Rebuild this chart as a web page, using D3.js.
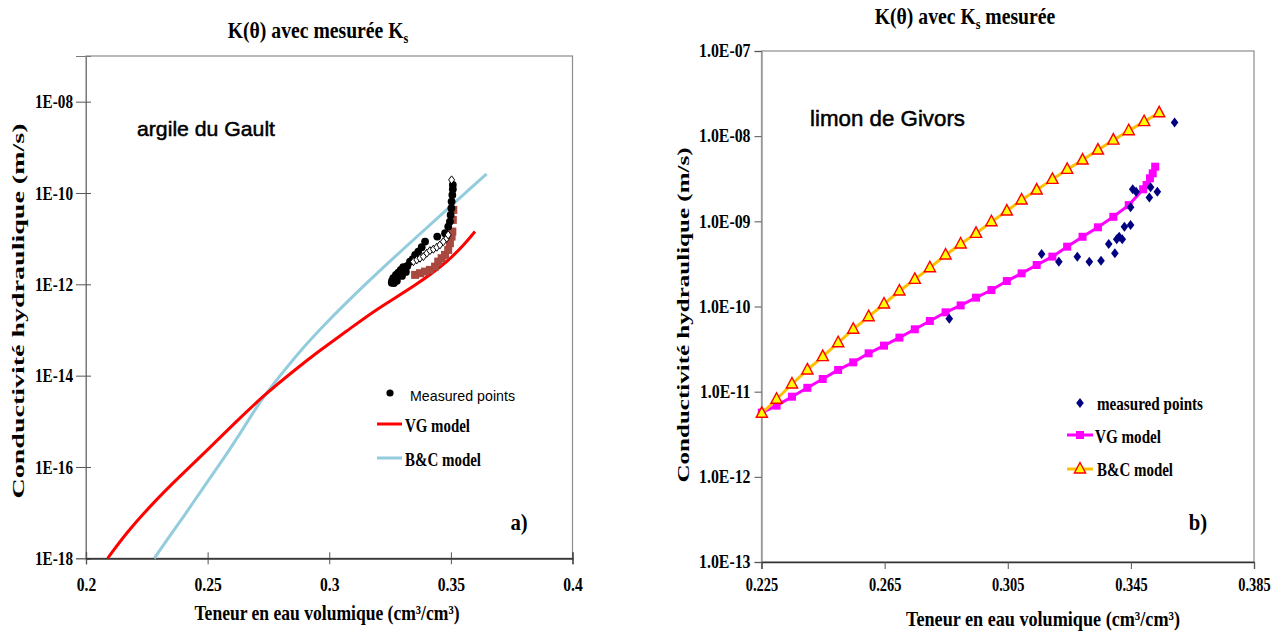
<!DOCTYPE html>
<html><head><meta charset="utf-8">
<script src="https://cdn.jsdelivr.net/npm/d3@7"></script>
<style>body{margin:0;background:#fff;} svg{display:block;}</style>
</head><body>
<svg id="c" width="1280" height="633"></svg>
<script>
// ---------- LEFT PANEL DATA (argile du Gault) ----------
const leftXTicks = [0.2, 0.25, 0.3, 0.35, 0.4];
const leftXLabels = ["0.2", "0.25", "0.3", "0.35", "0.4"];
const leftYTicks = [1e-18, 1e-16, 1e-14, 1e-12, 1e-10, 1e-8];
const leftYLabels = ["1E-18", "1E-16", "1E-14", "1E-12", "1E-10", "1E-08"];

const leftVGTheta = [0.2089,0.2164,0.2274,0.2384,0.2500,0.2617,0.2733,0.2850,0.2959,0.3069,0.3195,0.3359,0.3496,0.3565,0.3599];
const leftVGK = [1.0e-18,3.53e-18,1.60e-17,6.14e-17,2.36e-16,9.82e-16,3.78e-15,1.23e-14,3.50e-14,9.20e-14,2.89e-13,9.70e-13,3.43e-12,8.61e-12,1.43e-11];

const leftBCTheta = [0.2281,0.2342,0.2411,0.2480,0.2548,0.2617,0.2685,0.2740,0.2822,0.2891,0.2959,0.3069,0.3222,0.3359,0.3496,0.3578,0.3647];
const leftBCK = [1.0e-18,2.97e-18,9.68e-18,3.41e-17,1.11e-16,3.90e-16,1.50e-15,4.11e-15,1.45e-14,3.98e-14,1.00e-13,3.95e-13,2.36e-12,1.09e-11,4.95e-11,1.23e-10,2.62e-10];

const leftMeasTheta = [0.3257,0.3258,0.3266,0.3278,0.3263,0.3274,0.3284,0.3294,0.3299,0.3304,0.3315,0.3321,0.3332,0.3343,0.3353,0.3366,0.3380,0.3394,0.3444,0.3476,0.3489,0.3496,0.3499,0.3502,0.3503,0.3506,0.3508,0.3508];
const leftMeasK = [1.08e-12,1.19e-12,1.07e-12,1.19e-12,1.36e-12,1.61e-12,1.80e-12,2.07e-12,1.53e-12,2.37e-12,1.87e-12,2.53e-12,3.14e-12,3.55e-12,4.41e-12,5.20e-12,6.50e-12,8.61e-12,1.11e-11,1.32e-11,1.84e-11,2.37e-11,3.31e-11,4.64e-11,6.48e-11,9.08e-11,1.21e-10,1.51e-10];

const leftOpenTheta = [0.3346,0.3360,0.3373,0.3387,0.3401,0.3414,0.3428,0.3442,0.3455,0.3469,0.3483,0.3489,0.3503];
const leftOpenK = [3.14e-12,3.43e-12,3.73e-12,4.05e-12,4.80e-12,5.47e-12,5.87e-12,6.50e-12,7.30e-12,8.61e-12,1.02e-11,1.21e-11,1.94e-10];

const leftBrownTheta = [0.3353,0.3373,0.3394,0.3414,0.3435,0.3448,0.3462,0.3476,0.3489,0.3496,0.3503,0.3506,0.3508,0.3510];
const leftBrownK = [1.61e-12,1.75e-12,1.90e-12,2.07e-12,2.44e-12,3.14e-12,3.73e-12,4.41e-12,5.67e-12,7.94e-12,1.11e-11,1.43e-11,2.58e-11,4.27e-11];

// ---------- RIGHT PANEL DATA (limon de Givors) ----------
const rightXTicks = [0.225, 0.265, 0.305, 0.345, 0.385];
const rightXLabels = ["0.225", "0.265", "0.305", "0.345", "0.385"];
const rightYTicks = [1e-13, 1e-12, 1e-11, 1e-10, 1e-9, 1e-8, 1e-7];
const rightYLabels = ["1.0E-13", "1.0E-12", "1.0E-11", "1.0E-10", "1.0E-09", "1.0E-08", "1.0E-07"];

const rightBCTheta = [0.2251,0.2299,0.2349,0.2399,0.2449,0.2499,0.2548,0.2598,0.2648,0.2698,0.2748,0.2797,0.2848,0.2897,0.2947,0.2997,0.3047,0.3095,0.3144,0.3195,0.3243,0.3293,0.3343,0.3393,0.3443,0.3493,0.3542];
const rightBCK = [5.57e-12,8.15e-12,1.23e-11,1.80e-11,2.58e-11,3.76e-11,5.40e-11,7.59e-11,1.07e-10,1.52e-10,2.08e-10,2.85e-10,4.02e-10,5.42e-10,7.23e-10,9.89e-10,1.32e-9,1.78e-9,2.33e-9,3.11e-9,4.07e-9,5.24e-9,6.87e-9,8.99e-9,1.16e-8,1.48e-8,1.88e-8];

const rightVGTheta = [0.2251,0.2299,0.2349,0.2399,0.2449,0.2499,0.2548,0.2598,0.2648,0.2698,0.2748,0.2797,0.2848,0.2897,0.2947,0.2997,0.3047,0.3095,0.3144,0.3195,0.3243,0.3293,0.3343,0.3393,0.3443,0.3490,0.3501,0.3512,0.3521,0.3529];
const rightVGK = [5.68e-12,6.85e-12,8.73e-12,1.11e-11,1.41e-11,1.80e-11,2.21e-11,2.82e-11,3.47e-11,4.31e-11,5.40e-11,6.76e-11,8.55e-11,1.03e-10,1.27e-10,1.56e-10,1.99e-10,2.45e-10,3.07e-10,3.85e-10,5.04e-10,6.59e-10,8.51e-10,1.13e-9,1.55e-9,2.38e-9,2.67e-9,3.20e-9,3.66e-9,4.38e-9];

const rightMeasTheta = [0.2860,0.3160,0.3216,0.3276,0.3315,0.3353,0.3378,0.3398,0.3404,0.3412,0.3422,0.3429,0.3449,0.3449,0.3456,0.3467,0.3510,0.3514,0.3536,0.3592];
const rightMeasK = [7.19e-11,4.13e-10,3.36e-10,3.85e-10,3.36e-10,3.45e-10,5.42e-10,4.21e-10,6.15e-10,6.59e-10,6.15e-10,8.65e-10,9.06e-10,1.46e-9,2.38e-9,2.22e-9,1.91e-9,2.51e-9,2.22e-9,1.45e-8];

// ---------- DRAWING ----------
const svg = d3.select("#c");
const SERIF = "'Liberation Serif','Times New Roman',serif";
const SANS = "'Liberation Sans',Arial,sans-serif";

function condense(sel, f) {
  sel.each(function () {
    const w = this.getComputedTextLength();
    d3.select(this).attr("textLength", w * f).attr("lengthAdjust", "spacingAndGlyphs");
  });
}

function txt(x, y, s, o) {
  o = o || {};
  const g = svg.append("g")
    .attr("transform", `translate(${x},${y})` + (o.rot ? ` rotate(${o.rot})` : "") + (o.sx ? ` scale(${o.sx},1)` : ""));
  const t = g.append("text")
    .attr("text-anchor", o.anchor || "start")
    .attr("font-family", o.family || SERIF)
    .attr("font-weight", o.weight || "bold")
    .attr("font-size", o.size || 15)
    .attr("fill", "#000")
    .text(s);
  if (o.stroke) t.attr("stroke", "#000").attr("stroke-width", o.stroke);
  if (o.len) t.attr("textLength", o.len).attr("lengthAdjust", "spacingAndGlyphs");
  return t;
}

function titleWithSub(x, y, pre, sub, post, size, sx) {
  const t = svg.append("g").attr("transform", `translate(${x},${y}) scale(${sx},1)`)
    .append("text").attr("text-anchor", "middle").attr("font-family", SERIF)
    .attr("font-weight", "bold").attr("font-size", size);
  t.append("tspan").text(pre);
  t.append("tspan").attr("font-size", size * 0.62).attr("dy", 5).text(sub);
  if (post) t.append("tspan").attr("dy", -5).text(post);
}

const diamondPath = "M0,-5L3.8,0L0,5L-3.8,0Z";
const trianglePath = "M0,-6.5L5.6,4L-5.6,4Z";

// ===== LEFT =====
const xL = d3.scaleLinear().domain([0.2, 0.4]).range([86, 572.5]);
const yL = d3.scaleLog().domain([1e-18, 1e-7]).range([558.3, 56]);

svg.append("rect").attr("x", xL(0.2)).attr("y", yL(1e-7))
  .attr("width", xL(0.4) - xL(0.2)).attr("height", yL(1e-18) - yL(1e-7))
  .attr("fill", "none").attr("stroke", "#8c8c8c").attr("stroke-width", 1.2);

const gLy = svg.append("g").attr("transform", `translate(${xL(0.2)},0)`)
  .call(d3.axisLeft(yL).tickValues(leftYTicks).tickFormat((d, i) => leftYLabels[i]).tickSize(10).tickPadding(3));
gLy.append("g").call(d3.axisRight(yL).tickValues(leftYTicks).tickFormat("").tickSize(5));
gLy.selectAll("path.domain").attr("stroke", "#7a7a7a");
gLy.selectAll("line").attr("stroke", "#555");
gLy.selectAll("text").attr("font-family", SERIF).attr("font-weight", "bold").attr("font-size", 19).attr("fill", "#000").call(condense, 0.8);

const gLx = svg.append("g").attr("transform", `translate(0,${yL(1e-18)})`)
  .call(d3.axisBottom(xL).tickValues(leftXTicks).tickFormat((d, i) => leftXLabels[i]).tickSize(6).tickPadding(13));
gLx.append("g").call(d3.axisTop(xL).tickValues(leftXTicks).tickFormat("").tickSize(6));
gLx.selectAll("path.domain").attr("stroke", "#333").attr("stroke-width", 1.3);
gLx.selectAll("line").attr("stroke", "#555");
gLx.selectAll("text").attr("font-family", SERIF).attr("font-weight", "bold").attr("font-size", 19).attr("fill", "#000").call(condense, 0.82);

const lineL = d3.line().x(d => xL(d[0])).y(d => yL(d[1])).curve(d3.curveBasis);
svg.append("path").datum(d3.zip(leftBCTheta, leftBCK)).attr("d", lineL)
  .attr("fill", "none").attr("stroke", "#93CDDD").attr("stroke-width", 3);
svg.append("path").datum(d3.zip(leftVGTheta, leftVGK)).attr("d", lineL)
  .attr("fill", "none").attr("stroke", "#FF0000").attr("stroke-width", 3);

svg.append("g").selectAll("rect").data(d3.zip(leftBrownTheta, leftBrownK)).join("rect")
  .attr("x", d => xL(d[0]) - 4).attr("y", d => yL(d[1]) - 4)
  .attr("width", 8).attr("height", 8).attr("fill", "#A8483E");
svg.append("g").selectAll("circle").data(d3.zip(leftMeasTheta, leftMeasK)).join("circle")
  .attr("cx", d => xL(d[0])).attr("cy", d => yL(d[1])).attr("r", 3.9).attr("fill", "#000");
svg.append("g").selectAll("path").data(d3.zip(leftOpenTheta, leftOpenK)).join("path")
  .attr("transform", d => `translate(${xL(d[0])},${yL(d[1])})`)
  .attr("d", "M0,-4L3,0L0,4L-3,0Z").attr("fill", "#fff").attr("stroke", "#000").attr("stroke-width", 1);

// left texts
titleWithSub(318, 38, "K(θ) avec mesurée K", "s", null, 24, 0.82);
txt(24, 311, "Conductivité hydraulique (m/s)", {rot: -90, anchor: "middle", size: 17, len: 375});
txt(327, 620, "Teneur en eau volumique (cm³/cm³)", {anchor: "middle", size: 21, len: 265});
txt(137, 136, "argile du Gault", {family: SANS, weight: "normal", size: 21, len: 138, stroke: 0.5});
txt(519, 530, "a)", {anchor: "middle", size: 23, sx: 0.9});
// left legend
svg.append("circle").attr("cx", 390).attr("cy", 393).attr("r", 3.6).attr("fill", "#000");
txt(410, 401, "Measured points", {family: SANS, weight: "normal", size: 15, len: 105});
svg.append("line").attr("x1", 377).attr("x2", 402).attr("y1", 424).attr("y2", 424).attr("stroke", "#FF0000").attr("stroke-width", 3);
txt(405, 432, "VG model", {size: 18, len: 65});
svg.append("line").attr("x1", 377).attr("x2", 402).attr("y1", 458).attr("y2", 458).attr("stroke", "#93CDDD").attr("stroke-width", 3);
txt(405, 466, "B&C model", {size: 18, len: 76});

// ===== RIGHT =====
const xR = d3.scaleLinear().domain([0.225, 0.385]).range([761.5, 1254]);
const yR = d3.scaleLog().domain([1e-13, 1e-7]).range([562, 51]);

svg.append("rect").attr("x", xR(0.225)).attr("y", yR(1e-7))
  .attr("width", xR(0.385) - xR(0.225)).attr("height", yR(1e-13) - yR(1e-7))
  .attr("fill", "none").attr("stroke", "#8c8c8c").attr("stroke-width", 1.2);

const gRy = svg.append("g").attr("transform", `translate(${xR(0.225)},0)`)
  .call(d3.axisLeft(yR).tickValues(rightYTicks).tickFormat((d, i) => rightYLabels[i]).tickSize(7).tickPadding(4));
gRy.selectAll("path.domain").attr("stroke", "#9a9a9a").attr("stroke-width", 1.5);
gRy.selectAll("line").attr("stroke", "#555");
gRy.selectAll("text").attr("font-family", SERIF).attr("font-weight", "bold").attr("font-size", 18).attr("fill", "#000").call(condense, 0.88);

const gRx = svg.append("g").attr("transform", `translate(0,${yR(1e-13)})`)
  .call(d3.axisBottom(xR).tickValues(rightXTicks).tickFormat((d, i) => rightXLabels[i]).tickSize(7).tickPadding(9));
gRx.selectAll("path.domain").attr("stroke", "#333").attr("stroke-width", 1.3);
gRx.selectAll("line").attr("stroke", "#555");
gRx.selectAll("text").attr("font-family", SERIF).attr("font-weight", "bold").attr("font-size", 18).attr("fill", "#000").call(condense, 0.8);

const lineR = d3.line().x(d => xR(d[0])).y(d => yR(d[1]));
// VG
svg.append("path").datum(d3.zip(rightVGTheta, rightVGK)).attr("d", lineR)
  .attr("fill", "none").attr("stroke", "#FF00FF").attr("stroke-width", 3);
svg.append("g").selectAll("rect").data(d3.zip(rightVGTheta, rightVGK)).join("rect")
  .attr("x", d => xR(d[0]) - 4).attr("y", d => yR(d[1]) - 4)
  .attr("width", 8).attr("height", 8).attr("fill", "#FF00FF");
// B&C
svg.append("path").datum(d3.zip(rightBCTheta, rightBCK)).attr("d", lineR)
  .attr("fill", "none").attr("stroke", "#FFC000").attr("stroke-width", 3);
svg.append("g").selectAll("path").data(d3.zip(rightBCTheta, rightBCK)).join("path")
  .attr("transform", d => `translate(${xR(d[0])},${yR(d[1])})`)
  .attr("d", trianglePath).attr("fill", "#FFFF00").attr("stroke", "#FF0000").attr("stroke-width", 1.4);
// measured
svg.append("g").selectAll("path").data(d3.zip(rightMeasTheta, rightMeasK)).join("path")
  .attr("transform", d => `translate(${xR(d[0])},${yR(d[1])})`)
  .attr("d", diamondPath).attr("fill", "#000080");

// right texts
titleWithSub(965, 24, "K(θ) avec K", "s", " mesurée", 24, 0.82);
txt(689, 315, "Conductivité hydraulique (m/s)", {rot: -90, anchor: "middle", size: 17, len: 335});
txt(1043, 626, "Teneur en eau volumique (cm³/cm³)", {anchor: "middle", size: 21, len: 274});
txt(810, 126, "limon de Givors", {family: SANS, weight: "normal", size: 22, len: 155, stroke: 0.5});
txt(1198, 530, "b)", {anchor: "middle", size: 23, sx: 0.9});
// right legend
svg.append("path").attr("transform", "translate(1080,403)").attr("d", diamondPath).attr("fill", "#000080");
txt(1097, 410, "measured points", {size: 18, len: 106});
svg.append("line").attr("x1", 1067).attr("x2", 1093).attr("y1", 435).attr("y2", 435).attr("stroke", "#FF00FF").attr("stroke-width", 3);
svg.append("rect").attr("x", 1076).attr("y", 431).attr("width", 8).attr("height", 8).attr("fill", "#FF00FF");
txt(1095, 443, "VG model", {size: 18, len: 66});
svg.append("line").attr("x1", 1067).attr("x2", 1093).attr("y1", 469).attr("y2", 469).attr("stroke", "#FFC000").attr("stroke-width", 3);
svg.append("path").attr("transform", "translate(1080,469)").attr("d", trianglePath).attr("fill", "#FFFF00").attr("stroke", "#FF0000").attr("stroke-width", 1.4);
txt(1097, 476, "B&C model", {size: 18, len: 76});
</script>
</body></html>
